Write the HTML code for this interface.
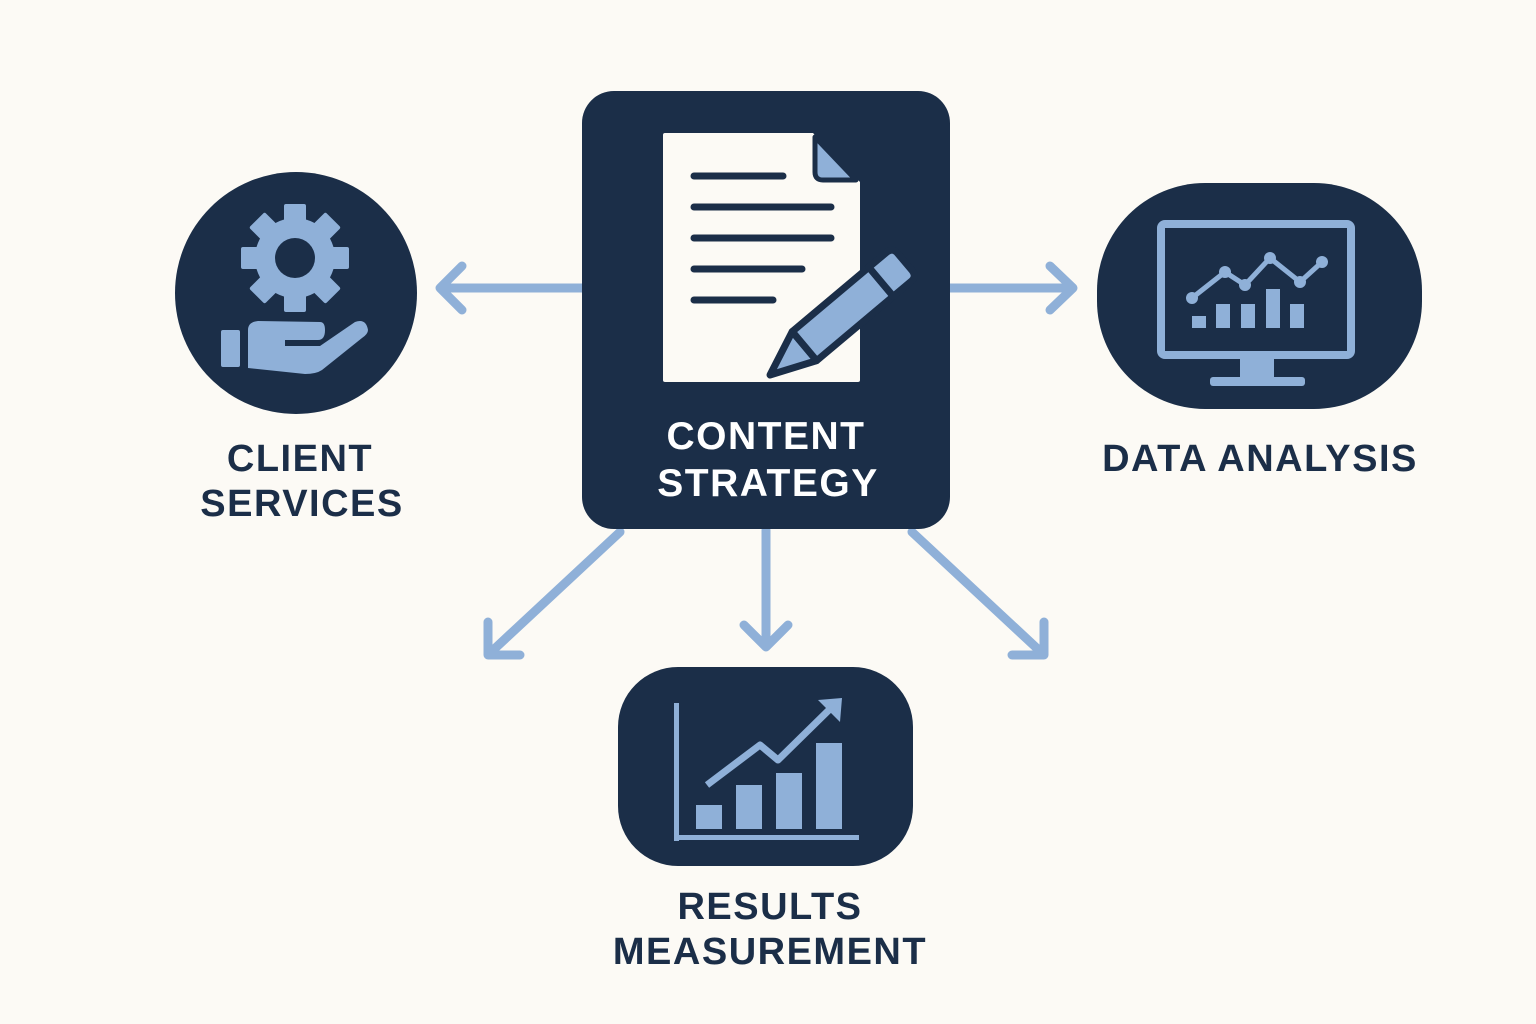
<!DOCTYPE html>
<html><head><meta charset="utf-8"><style>
html,body{margin:0;padding:0;background:#fcfaf5;}
svg{display:block}
text{font-family:"Liberation Sans",sans-serif;font-weight:bold;letter-spacing:1.5px;}
</style></head><body>
<svg width="1536" height="1024" viewBox="0 0 1536 1024" xmlns="http://www.w3.org/2000/svg">
<rect width="1536" height="1024" fill="#fcfaf5"/>
<g stroke="#8fb0d8" stroke-width="9" fill="none" stroke-linecap="round" stroke-linejoin="round">
  <line x1="582" y1="288" x2="442" y2="288"/><polyline points="462,266 440,288 462,310"/>
  <line x1="950" y1="288" x2="1072" y2="288"/><polyline points="1050,266 1073,288 1050,310"/>
  <line x1="766" y1="530" x2="766" y2="645"/><polyline points="744,625 766,647 788,625"/>
  <line x1="620" y1="532" x2="490" y2="653"/><polyline points="488,622 488,655 520,655"/>
  <line x1="912" y1="532" x2="1042" y2="653"/><polyline points="1044,622 1044,655 1012,655"/>
</g>
<!-- center -->
<rect x="582" y="91" width="368" height="438" rx="32" fill="#1b2e48"/>
<path d="M663 135 Q663 133 665 133 L813 133 L860 182 L860 380 Q860 382 858 382 L665 382 Q663 382 663 380 Z" fill="#fcfaf5"/>
<path d="M815 137 L815 172 Q815 180 823 180 L856 180 Z" fill="#8fb0d8" stroke="#1b2e48" stroke-width="5" stroke-linejoin="round"/>
<g stroke="#1b2e48" stroke-width="7" stroke-linecap="round">
<line x1="694" y1="176" x2="783" y2="176"/><line x1="694" y1="207" x2="831" y2="207"/>
<line x1="694" y1="238" x2="831" y2="238"/><line x1="694" y1="269" x2="802" y2="269"/>
<line x1="694" y1="300" x2="773" y2="300"/>
</g>
<g transform="translate(770,375) rotate(-40)" stroke="#1b2e48" stroke-width="7" stroke-linejoin="round" fill="#8fb0d8">
<path d="M0 0 L45 -19 L45 19 Z"/>
<rect x="45" y="-19" width="100" height="38"/>
<path d="M145 -19 L168 -19 Q176 -19 176 -11 L176 11 Q176 19 168 19 L145 19 Z"/>
</g>
<text x="766" y="449" fill="#fff" font-size="39" text-anchor="middle">CONTENT</text>
<text x="768" y="496" fill="#fff" font-size="39" text-anchor="middle">STRATEGY</text>
<!-- left circle -->
<circle cx="296" cy="293" r="121" fill="#1b2e48"/>
<g transform="translate(295,258)" fill="#8fb0d8">
<g id="t"><rect x="-11" y="-54" width="22" height="22" rx="2"/></g>
<use href="#t" transform="rotate(45)"/><use href="#t" transform="rotate(90)"/><use href="#t" transform="rotate(135)"/>
<use href="#t" transform="rotate(180)"/><use href="#t" transform="rotate(225)"/><use href="#t" transform="rotate(270)"/><use href="#t" transform="rotate(315)"/>
<circle r="40"/>
<circle r="20" fill="#1b2e48"/>
</g>
<rect x="221" y="330" width="19" height="37" rx="2" fill="#8fb0d8"/>
<path d="M248 330 Q248 322 258 321 L320 322 Q325 322 325 330 Q325 340 318 340 L285 340 L285 346 L320 346 L355 322 Q366 318 368 330 Q368 334 362 338 L322 370 Q316 374 305 374 L248 368 Z" fill="#8fb0d8"/>
<text x="300" y="471" fill="#1b2e48" font-size="38" text-anchor="middle">CLIENT</text>
<text x="302" y="516" fill="#1b2e48" font-size="38" text-anchor="middle">SERVICES</text>
<!-- right -->
<rect x="1097" y="183" width="325" height="226" rx="108" fill="#1b2e48"/>
<rect x="1161" y="224" width="190" height="131" rx="4" fill="none" stroke="#8fb0d8" stroke-width="8"/>
<rect x="1240" y="359" width="34" height="20" fill="#8fb0d8"/>
<rect x="1210" y="377" width="95" height="9" rx="3" fill="#8fb0d8"/>
<polyline points="1192,298 1225,272 1245,285 1270,258 1300,282 1322,262" fill="none" stroke="#8fb0d8" stroke-width="5"/>
<g fill="#8fb0d8"><circle cx="1192" cy="298" r="6"/><circle cx="1225" cy="272" r="6"/><circle cx="1245" cy="285" r="6"/><circle cx="1270" cy="258" r="6"/><circle cx="1300" cy="282" r="6"/><circle cx="1322" cy="262" r="6"/>
<rect x="1192" y="316" width="14" height="12"/><rect x="1216" y="304" width="14" height="24"/><rect x="1241" y="304" width="14" height="24"/><rect x="1266" y="289" width="14" height="39"/><rect x="1290" y="304" width="14" height="24"/></g>
<text x="1260" y="471" fill="#1b2e48" font-size="38" text-anchor="middle">DATA ANALYSIS</text>
<!-- bottom -->
<rect x="618" y="667" width="295" height="199" rx="60" fill="#1b2e48"/>
<g fill="#8fb0d8">
<rect x="674" y="703" width="5" height="138"/><rect x="674" y="835" width="185" height="5"/>
<rect x="696" y="805" width="26" height="24"/><rect x="736" y="785" width="26" height="44"/><rect x="776" y="773" width="26" height="56"/><rect x="816" y="743" width="26" height="86"/>
<path d="M818 700 L842 698 L840 722 Z"/>
</g>
<polyline points="707,785 760,745 778,760 832,707" fill="none" stroke="#8fb0d8" stroke-width="7" stroke-linejoin="round"/>
<text x="770" y="919" fill="#1b2e48" font-size="38" text-anchor="middle">RESULTS</text>
<text x="770" y="964" fill="#1b2e48" font-size="38" text-anchor="middle">MEASUREMENT</text>
</svg>
</body></html>
